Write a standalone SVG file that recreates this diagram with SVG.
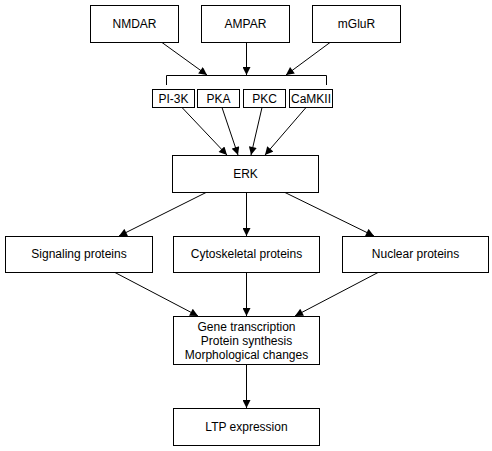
<svg xmlns="http://www.w3.org/2000/svg" width="492" height="451" viewBox="0 0 492 451">
<style>
rect{fill:#fff;stroke:#000;stroke-width:1}
text{font-family:"Liberation Sans",Arial,sans-serif;font-size:12px;fill:#000;text-anchor:middle}
.c line,.c path{stroke:#000;stroke-width:1;fill:none}
</style>
<defs>
<marker id="ah" viewBox="0 0 10 10" refX="10" refY="5" markerWidth="9" markerHeight="8" markerUnits="userSpaceOnUse" orient="auto">
<path d="M0,0 L10,5 L0,10 z" fill="#000"/>
</marker>
</defs>
<rect x="0" y="0" width="492" height="451" style="fill:#fff;stroke:none"/>
<g id="nmdar"><rect x="90.5" y="5.5" width="88" height="37"/><text x="134.5" y="28">NMDAR</text></g>
<g id="ampar"><rect x="201.5" y="5.5" width="88" height="37"/><text x="245.5" y="28">AMPAR</text></g>
<g id="mglur"><rect x="312.5" y="5.5" width="88" height="37"/><text x="356.5" y="28">mGluR</text></g>
<g id="pi3k"><rect x="152.5" y="89.5" width="42" height="18"/><text x="173.5" y="103">PI-3K</text></g>
<g id="pka"><rect x="197.5" y="89.5" width="42" height="18"/><text x="218.5" y="103">PKA</text></g>
<g id="pkc"><rect x="243.5" y="89.5" width="42" height="18"/><text x="264.5" y="103">PKC</text></g>
<g id="camkii"><rect x="289.5" y="89.5" width="43" height="18"/><text x="311" y="103">CaMKII</text></g>
<g id="erk"><rect x="172.5" y="155.5" width="146" height="37"/><text x="245.5" y="178">ERK</text></g>
<g id="signaling"><rect x="5.5" y="236.5" width="147" height="36"/><text x="79" y="258">Signaling proteins</text></g>
<g id="cytoskeletal"><rect x="173.5" y="236.5" width="146" height="36"/><text x="246.5" y="258">Cytoskeletal proteins</text></g>
<g id="nuclear"><rect x="342.5" y="236.5" width="146" height="36"/><text x="415.5" y="258">Nuclear proteins</text></g>
<g id="gene"><rect x="173.5" y="316.5" width="146" height="48"/><text x="246.5" y="331">Gene transcription</text><text x="246.5" y="345">Protein synthesis</text><text x="246.5" y="359">Morphological changes</text></g>
<g id="ltp"><rect x="173.5" y="408.5" width="146" height="37"/><text x="246.5" y="431">LTP expression</text></g>
<g id="connectors" class="c">
<path d="M166.5,85 V75.5 H326.5 V85"/>
<line x1="162" y1="42.5" x2="207" y2="75" marker-end="url(#ah)"/>
<line x1="246.5" y1="42.5" x2="246.5" y2="75" marker-end="url(#ah)"/>
<line x1="330" y1="42.5" x2="286" y2="75" marker-end="url(#ah)"/>
<line x1="182" y1="107.5" x2="227" y2="155" marker-end="url(#ah)"/>
<line x1="222" y1="107.5" x2="238" y2="155" marker-end="url(#ah)"/>
<line x1="262" y1="107.5" x2="251" y2="155" marker-end="url(#ah)"/>
<line x1="306" y1="107.5" x2="265" y2="155" marker-end="url(#ah)"/>
<line x1="206" y1="192.5" x2="119" y2="236" marker-end="url(#ah)"/>
<line x1="246.5" y1="192.5" x2="246.5" y2="236" marker-end="url(#ah)"/>
<line x1="285" y1="192.5" x2="374" y2="236" marker-end="url(#ah)"/>
<line x1="115" y1="272.5" x2="198" y2="316" marker-end="url(#ah)"/>
<line x1="246.5" y1="272.5" x2="246.5" y2="316" marker-end="url(#ah)"/>
<line x1="378" y1="272.5" x2="295" y2="316" marker-end="url(#ah)"/>
<line x1="246.5" y1="364.5" x2="246.5" y2="408" marker-end="url(#ah)"/>
</g>
</svg>
